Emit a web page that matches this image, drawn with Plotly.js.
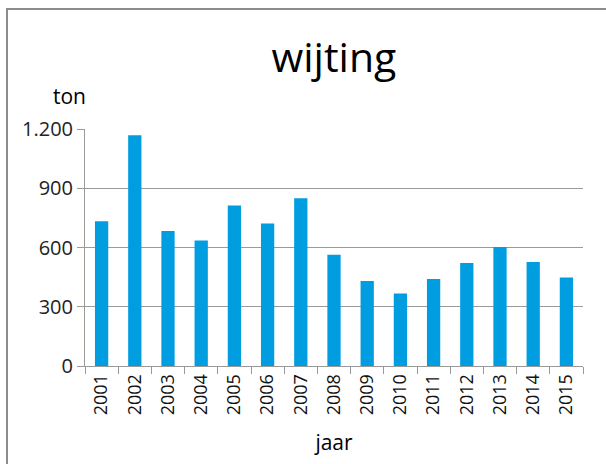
<!DOCTYPE html>
<html>
<head>
<meta charset="utf-8">
<script src="https://cdn.plot.ly/plotly-3.0.1.min.js"></script>
<style>
  html, body { margin: 0; padding: 0; background: #fff; overflow: hidden; }
  #wrap { position: relative; width: 606px; height: 464px; }
  #chart { position: absolute; left: 0; top: 0; width: 606px; height: 464px; }
  #frame { position: absolute; left: 6px; top: 8px; width: 620px; height: 480px;
           border-left: 2px solid #8c8c8c; border-top: 2px solid #8c8c8c; pointer-events: none; }
</style>
</head>
<body>
<div id="wrap">
  <div id="chart"></div>
  <div id="frame"></div>
</div>
<script>
const years = ['2001','2002','2003','2004','2005','2006','2007','2008','2009','2010','2011','2012','2013','2014','2015'];
const tonnes = [733, 1168, 683, 636, 813, 722, 849, 563, 431, 367, 441, 522, 602, 527, 448];
const chartTitle = 'wijting';
const yUnit = 'ton';
const xTitle = 'jaar';

const fontFam = '"Open Sans", "Noto Sans", sans-serif';

const trace = {
  type: 'bar',
  x: years,
  y: tonnes,
  width: 0.4,
  marker: { color: '#009ee0', line: { width: 0 } },
  hoverinfo: 'skip'
};

const layout = {
  width: 606,
  height: 464,
  margin: { l: 85, r: 23, t: 129, b: 98 },
  paper_bgcolor: '#ffffff',
  plot_bgcolor: '#ffffff',
  separators: ',.',
  showlegend: false,
  title: {
    text: chartTitle,
    font: { family: fontFam, size: 41, color: '#000' },
    x: 0.551, xanchor: 'center',
    y: 0.876, yanchor: 'middle'
  },
  xaxis: {
    type: 'category',
    tickangle: -90,
    tickfont: { family: fontFam, size: 18, color: '#111' },
    ticks: 'outside',
    tickson: 'boundaries',
    ticklen: 7,
    tickcolor: '#999999',
    showline: true,
    linecolor: '#999999',
    linewidth: 1,
    showgrid: false,
    title: { text: xTitle, font: { family: fontFam, size: 21, color: '#000' }, standoff: 20 },
    fixedrange: true
  },
  yaxis: {
    range: [0, 1200],
    tickvals: [0, 300, 600, 900, 1200],
    tickformat: ',d',
    tickfont: { family: fontFam, size: 20, color: '#222' },
    ticks: 'outside',
    ticklen: 7,
    tickcolor: '#999999',
    showline: true,
    linecolor: '#999999',
    linewidth: 1,
    showgrid: true,
    gridcolor: '#9a9a9a',
    gridwidth: 1,
    zeroline: false,
    fixedrange: true
  },
  annotations: [{
    text: yUnit,
    xref: 'paper', yref: 'paper',
    x: -0.031, y: 1.14,
    xanchor: 'center', yanchor: 'middle',
    showarrow: false,
    font: { family: fontFam, size: 21, color: '#000' }
  }]
};

Plotly.newPlot('chart', [trace], layout, { displayModeBar: false, staticPlot: true });
</script>
</body>
</html>
